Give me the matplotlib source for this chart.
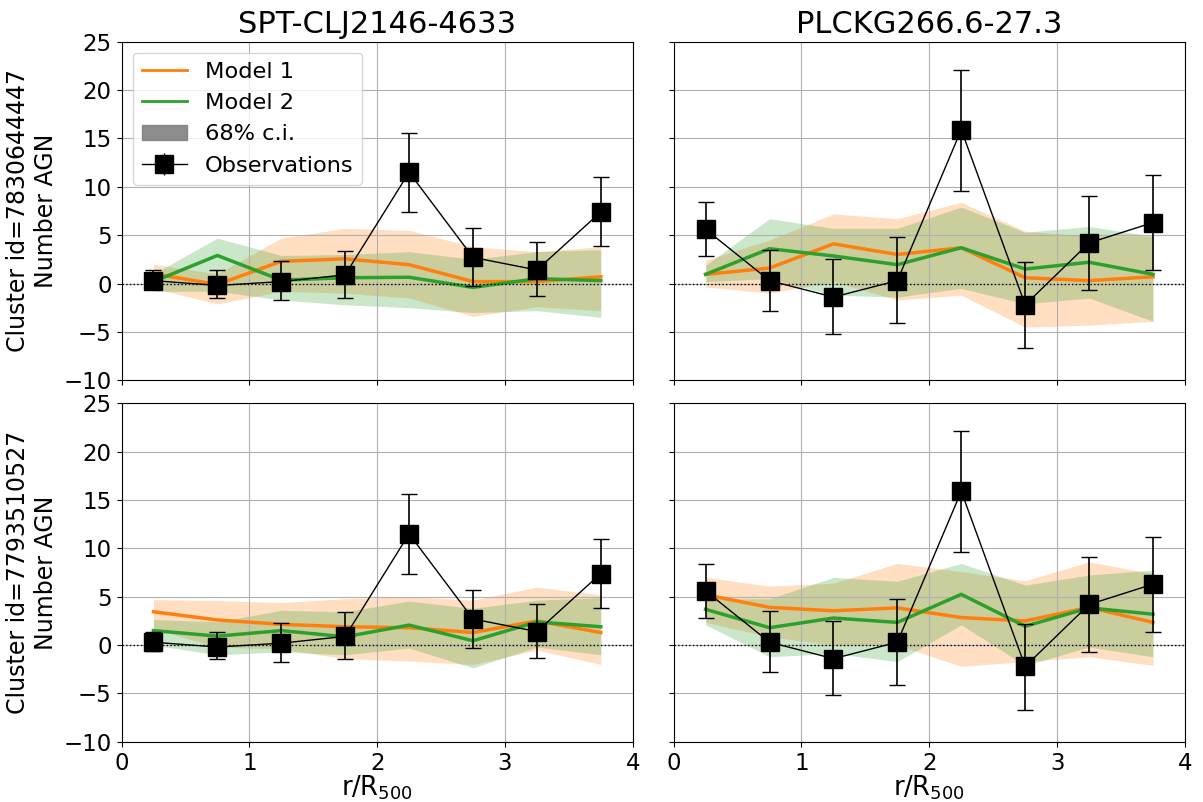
import numpy as np
import matplotlib
matplotlib.use("Agg")
import matplotlib.pyplot as plt
from matplotlib.patches import Patch

# radial bins (bin centres in r/R500)
r = np.array([0.25, 0.75, 1.25, 1.75, 2.25, 2.75, 3.25, 3.75])

titles = ["SPT-CLJ2146-4633", "PLCKG266.6-27.3"]
cluster_ids = ["7830644447", "7793510527"]

# observations per column (same in both rows)
obs_left = [0.3, -0.2, 0.2, 0.9, 11.5, 2.7, 1.4, 7.4]
obs_left_lo = [-0.6, -1.45, -1.7, -1.45, 7.4, -0.3, -1.3, 3.85]
obs_left_hi = [1.35, 1.35, 2.3, 3.4, 15.6, 5.7, 4.3, 11.0]

obs_right = [5.6, 0.3, -1.4, 0.3, 15.9, -2.2, 4.2, 6.3]
obs_right_lo = [2.8, -2.8, -5.2, -4.1, 9.6, -6.7, -0.7, 1.4]
obs_right_hi = [8.4, 3.5, 2.5, 4.8, 22.1, 2.2, 9.1, 11.2]

# row 1, left column
m1_tl = [1.0, -0.1, 2.3, 2.55, 1.95, 0.2, 0.2, 0.7]
m1_tl_lo = [-0.5, -2.1, -0.8, -1.0, -1.5, -3.4, -2.4, -2.8]
m1_tl_hi = [2.0, 1.0, 4.7, 5.7, 5.5, 3.8, 3.3, 3.8]
m2_tl = [0.2, 2.9, 0.35, 0.6, 0.65, -0.4, 0.5, 0.3]
m2_tl_lo = [-0.8, -0.8, -1.7, -2.2, -2.5, -3.0, -2.8, -3.5]
m2_tl_hi = [1.0, 4.7, 2.9, 3.0, 3.3, 2.5, 3.3, 3.5]

# row 1, right column
m1_tr = [0.95, 1.6, 4.1, 3.0, 3.7, 0.6, 0.3, 0.7]
m1_tr_lo = [-0.35, -1.0, 0.2, -1.7, -1.2, -4.5, -4.3, -3.9]
m1_tr_hi = [2.4, 4.5, 7.2, 6.7, 8.4, 5.4, 4.9, 4.9]
m2_tr = [0.95, 3.6, 2.85, 1.95, 3.7, 1.5, 2.2, 0.95]
m2_tr_lo = [0.2, 0.5, -1.2, -1.4, -0.5, -2.1, -1.5, -3.9]
m2_tr_hi = [1.9, 6.7, 5.7, 5.7, 7.9, 5.3, 5.9, 4.9]

# row 2, left column
m1_bl = [3.45, 2.6, 2.15, 1.9, 1.8, 1.3, 2.5, 1.3]
m1_bl_lo = [1.7, -0.2, -0.4, -1.4, -1.65, -2.0, -0.5, -2.0]
m1_bl_hi = [4.7, 4.6, 4.4, 4.8, 5.0, 4.65, 6.0, 5.2]
m2_bl = [1.5, 0.93, 1.5, 0.86, 2.07, 0.45, 2.4, 1.9]
m2_bl_lo = [0.0, -1.0, -0.7, -1.0, -0.3, -2.35, -0.2, -1.0]
m2_bl_hi = [2.65, 2.4, 3.6, 3.45, 4.55, 3.8, 4.65, 4.9]

# row 2, right column
m1_br = [5.2, 3.9, 3.55, 3.85, 2.85, 2.5, 3.9, 2.35]
m1_br_lo = [2.35, 0.86, 0.0, 0.0, -2.2, -1.7, -1.2, -2.1]
m1_br_hi = [7.0, 6.1, 6.4, 8.45, 7.6, 6.65, 8.6, 7.4]
m2_br = [3.7, 1.8, 2.8, 2.35, 5.25, 1.95, 3.85, 3.2]
m2_br_lo = [2.1, -1.2, -0.86, -1.7, 2.1, -2.1, -0.2, -1.2]
m2_br_hi = [4.8, 4.8, 7.0, 6.6, 8.45, 6.2, 7.25, 7.75]

models = [
    [(m1_tl, m1_tl_lo, m1_tl_hi, m2_tl, m2_tl_lo, m2_tl_hi),
     (m1_tr, m1_tr_lo, m1_tr_hi, m2_tr, m2_tr_lo, m2_tr_hi)],
    [(m1_bl, m1_bl_lo, m1_bl_hi, m2_bl, m2_bl_lo, m2_bl_hi),
     (m1_br, m1_br_lo, m1_br_hi, m2_br, m2_br_lo, m2_br_hi)],
]
observations = [(obs_left, obs_left_lo, obs_left_hi),
                (obs_right, obs_right_lo, obs_right_hi)]

fig, axes = plt.subplots(2, 2, figsize=(12.03, 8.02), dpi=100,
                         sharex=True, sharey=True)
fig.subplots_adjust(left=0.101, right=0.985, top=0.948, bottom=0.075,
                    wspace=0.08, hspace=0.068)

for i in range(2):
    for j in range(2):
        ax = axes[i, j]
        m1, m1lo, m1hi, m2, m2lo, m2hi = models[i][j]
        ax.fill_between(r, m1lo, m1hi, color="C1", alpha=0.25, lw=0)
        ax.fill_between(r, m2lo, m2hi, color="C2", alpha=0.25, lw=0)
        ax.plot(r, m1, color="C1", lw=2.5)
        ax.plot(r, m2, color="C2", lw=2.5)
        y, lo, hi = observations[j]
        y = np.array(y)
        yerr = [y - np.array(lo), np.array(hi) - y]
        ax.errorbar(r, y, yerr=yerr, fmt="s-", color="black", ms=13,
                    lw=1, elinewidth=1.2, capsize=6, zorder=5)
        ax.axhline(0, color="black", ls=":", lw=1)
        ax.grid(True)
        ax.set_xlim(0, 4)
        ax.set_ylim(-10, 25)
        ax.set_xticks([0, 1, 2, 3, 4])
        ax.set_yticks([-10, -5, 0, 5, 10, 15, 20, 25])
        ax.tick_params(labelsize=16.5)
        if i == 0:
            ax.set_title(titles[j], fontsize=22)
        if i == 1:
            ax.set_xlabel(r"r/R$_{500}$", fontsize=18.5, labelpad=-1)
        if j == 0:
            ax.set_ylabel("Cluster id=%s\nNumber AGN" % cluster_ids[i],
                          fontsize=17)

leg_err = axes[0, 0].errorbar([], [], yerr=[], fmt="s-", color="black",
                              ms=13, lw=1, capsize=6)
handles = [
    plt.Line2D([], [], color="C1", lw=2),
    plt.Line2D([], [], color="C2", lw=2),
    Patch(facecolor="gray", edgecolor="gray", alpha=0.9),
    leg_err,
]
axes[0, 0].legend(handles, ["Model 1", "Model 2", "68% c.i.", "Observations"],
                  loc="upper left", fontsize=16.2)

plt.savefig("out.png")
